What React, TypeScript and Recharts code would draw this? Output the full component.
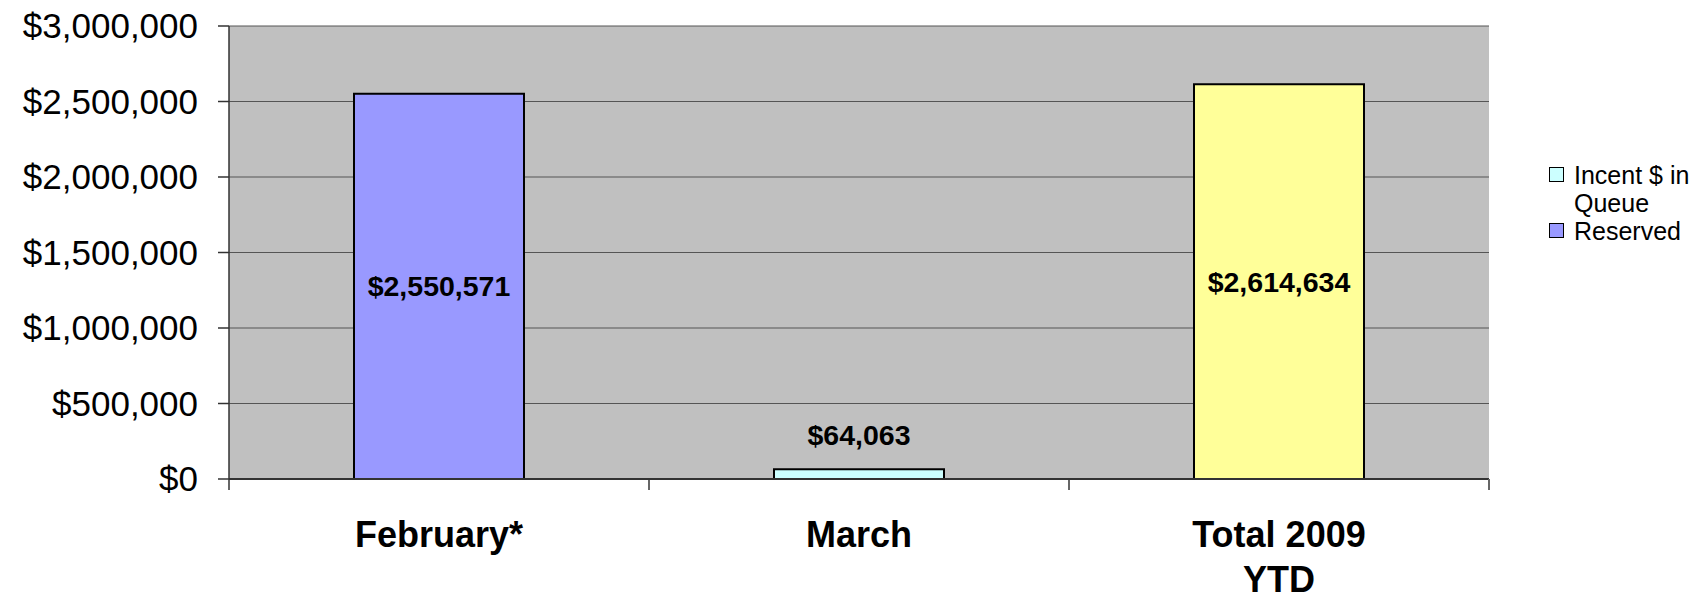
import { Bar, BarChart, CartesianGrid, Cell, LabelList, XAxis, YAxis } from "recharts"

// chart data
const categories = ["February*", "March", "Total 2009 YTD"]
const amounts = [2550571, 64063, 2614634]
const yTicks = [0, 500000, 1000000, 1500000, 2000000, 2500000, 3000000]
const legendLabels = ["Incent $ in Queue", "Reserved"]

const barColors = ["#9999FF", "#CCFFFF", "#FFFF99"]
const legendColors = ["#CCFFFF", "#9999FF"]

const FONT = '"Liberation Sans", Arial, Helvetica, sans-serif'
const WIDTH = 1704
const HEIGHT = 600
const MARGIN = { top: 26, right: 215, bottom: 0, left: 0 }
const Y_AXIS_WIDTH = 229
const PLOT_WIDTH = WIDTH - MARGIN.right - MARGIN.left - Y_AXIS_WIDTH
const BAND = PLOT_WIDTH / categories.length

const chartData = categories.map((name, i) => ({ name, amount: amounts[i] }))

const money = (v: number) => `$${v.toLocaleString("en-US")}`

// wrap category labels the way Excel did (short lines)
function wrapLabel(text: string, maxChars: number) {
  const words = text.split(" ")
  const lines: string[] = []
  let current = ""
  for (const w of words) {
    const next = current ? `${current} ${w}` : w
    if (next.length > maxChars && current) {
      lines.push(current)
      current = w
    } else {
      current = next
    }
  }
  if (current) lines.push(current)
  return lines
}

function CategoryTick(props: any) {
  const { x, y, payload, index } = props
  const lines = wrapLabel(String(payload.value), 10)
  const left = x - BAND / 2
  return (
    <g>
      <line x1={left} x2={left} y1={y} y2={y + 11} stroke="#333" strokeWidth={1.5} />
      {index === categories.length - 1 && (
        <line x1={left + BAND} x2={left + BAND} y1={y} y2={y + 11} stroke="#666" strokeWidth={2} />
      )}
      <text x={x} y={y + 68} textAnchor="middle" fontSize={36} fontWeight="bold" fill="#000" fontFamily={FONT}>
        {lines.map((line, i) => (
          <tspan key={i} x={x} dy={i === 0 ? 0 : 45}>
            {line}
          </tspan>
        ))}
      </text>
    </g>
  )
}

function AmountLabel(props: any) {
  const { x, y, width, height, value } = props
  const cx = x + width / 2
  const inside = height > 60
  return (
    <text
      x={cx}
      y={inside ? y + height / 2 : y - 24}
      dominantBaseline={inside ? "central" : "alphabetic"}
      textAnchor="middle"
      fontSize={28.5}
      fontWeight="bold"
      fill="#000"
      fontFamily={FONT}
    >
      {money(value)}
    </text>
  )
}

export default function App() {
  return (
    <div style={{ position: "relative", width: WIDTH, height: HEIGHT, fontFamily: FONT, background: "#fff" }}>
      <style>{`body { margin: 0; }`}</style>
      <BarChart width={WIDTH} height={HEIGHT} data={chartData} margin={MARGIN}>
        <CartesianGrid vertical={false} fill="#C0C0C0" stroke="#555" strokeWidth={1} />
        <XAxis
          dataKey="name"
          height={121}
          interval={0}
          tickLine={false}
          tickSize={0}
          tickMargin={0}
          axisLine={{ stroke: "#333", strokeWidth: 2 }}
          tick={<CategoryTick />}
        />
        <YAxis
          width={Y_AXIS_WIDTH}
          domain={[0, 3000000]}
          ticks={yTicks}
          interval={0}
          tickFormatter={money}
          tickSize={11}
          tickMargin={20}
          axisLine={{ stroke: "#333", strokeWidth: 1.5 }}
          tickLine={{ stroke: "#333", strokeWidth: 1.5 }}
          tick={{ fontSize: 35, fill: "#000", fontFamily: FONT }}
        />
        <YAxis
          yAxisId="right"
          orientation="right"
          width={0}
          tick={false}
          tickLine={false}
          axisLine={{ stroke: "#808080", strokeWidth: 2 }}
        />
        <Bar dataKey="amount" barSize={170} stroke="#000" strokeWidth={2} isAnimationActive={false}>
          {chartData.map((_, i) => (
            <Cell key={i} fill={barColors[i]} />
          ))}
          <LabelList dataKey="amount" content={<AmountLabel />} />
        </Bar>
      </BarChart>
      <div style={{ position: "absolute", left: 1549, top: 161, fontSize: 25, lineHeight: "28px", color: "#000" }}>
        {legendLabels.map((label, i) => (
          <div key={label} style={{ display: "flex", alignItems: "flex-start" }}>
            <span
              style={{
                width: 13,
                height: 13,
                marginTop: 6,
                marginRight: 10,
                background: legendColors[i],
                border: "1.5px solid #000",
                flexShrink: 0,
              }}
            />
            <span style={{ width: 128 }}>{label}</span>
          </div>
        ))}
      </div>
    </div>
  )
}
